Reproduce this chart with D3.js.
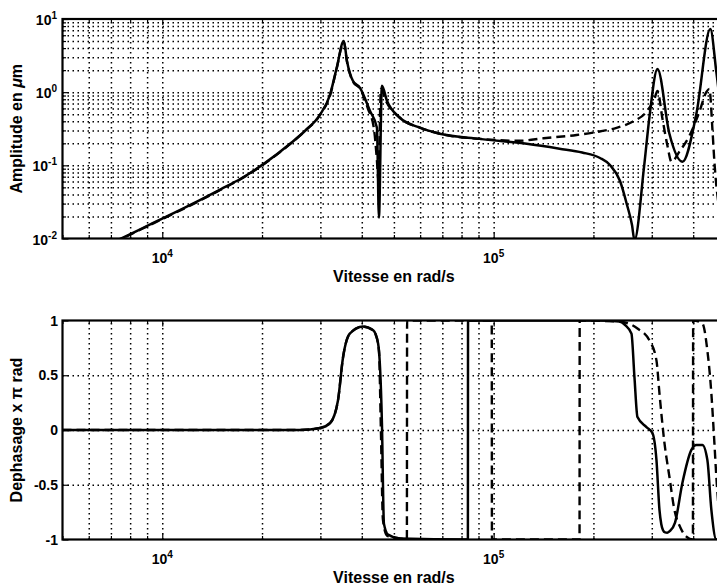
<!DOCTYPE html>
<html><head><meta charset="utf-8">
<script src="https://cdn.jsdelivr.net/npm/d3@7"></script>
<style>
body{margin:0;background:#fff;}
svg{display:block;font-family:"Liberation Sans",Arial,Helvetica,sans-serif;font-weight:bold;}
</style></head><body>
<svg id="chart" width="717" height="588"></svg>
<script>
// ---------- data ----------
const xDomain = [5000, 500000];
const xMajorTicks = [1e4, 1e5];
const xTickLabelBase = ["10", "10"];
const xTickLabelExp = ["4", "5"];

const ampDomain = [0.01, 10];
const ampMajorTicks = [0.01, 0.1, 1, 10];
const ampTickLabelExp = ["-2", "-1", "0", "1"];

const phaseDomain = [-1, 1];
const phaseTicks = [-1, -0.5, 0, 0.5, 1];
const phaseTickLabels = ["-1", "-0.5", "0", "0.5", "1"];

const xTitle = "Vitesse en rad/s";
const ampTitle = ["Amplitude en ", "\u03BC", "m"];
const phaseTitle = "Dephasage x \u03C0 rad";

// amplitude, solid curve
const ampOmegaSolid = [5000, 7585, 8700, 10000, 11500, 13030, 15000, 17180, 20440, 24300, 26980, 29900, 32070, 33600, 35300, 36090, 37600, 39500, 42330, 44440, 45060, 46000, 47640, 52120, 59860, 68800, 90800, 125800, 158000, 185000, 209400, 224400, 240600, 252600, 261500, 266000, 284300, 295000, 312100, 339100, 371200, 409000, 450600, 469800, 500000];
const ampSolid = [0.0043, 0.0102, 0.0138, 0.0187, 0.0254, 0.0337, 0.047, 0.065, 0.108, 0.197, 0.297, 0.49, 0.92, 2.15, 5.0, 2.67, 1.43, 1.146, 0.556, 0.327, 0.0193, 1.22, 0.762, 0.447, 0.327, 0.27, 0.23, 0.197, 0.169, 0.15, 0.126, 0.101, 0.061, 0.0287, 0.0153, 0.0095, 0.095, 0.447, 2.08, 0.27, 0.112, 0.506, 7.3, 1.89, 0.16];

// amplitude, dashed curve
const ampOmegaDashed = [5000, 7585, 8700, 10000, 11500, 13030, 15000, 17180, 20440, 24300, 26980, 29900, 32070, 33600, 35300, 36090, 37600, 39500, 41760, 43530, 44440, 44900, 45680, 47300, 52120, 59860, 68800, 90800, 119800, 141600, 177900, 208700, 234800, 262400, 289100, 305600, 312100, 323100, 334500, 343900, 363500, 389700, 417700, 438500, 447700, 457100, 463500, 469800, 500000];
const ampDashed = [0.0042, 0.0100, 0.0136, 0.0184, 0.025, 0.0332, 0.0463, 0.064, 0.107, 0.195, 0.295, 0.485, 0.9, 2.1, 4.9, 2.6, 1.4, 1.12, 0.593, 0.316, 0.116, 0.062, 1.11, 0.76, 0.447, 0.327, 0.27, 0.23, 0.217, 0.235, 0.26, 0.29, 0.325, 0.394, 0.54, 0.811, 1.04, 0.433, 0.185, 0.112, 0.154, 0.254, 0.54, 1.01, 1.11, 0.316, 0.112, 0.053, 0.0129];

// phase (x pi rad), solid curve
const phaseOmegaSolid = [5000, 26050, 29930, 32100, 33900, 35100, 36800, 40300, 43300, 44800, 46010, 46650, 48000, 52100, 83600, 83700, 208700, 239800, 249900, 260500, 266000, 271600, 289100, 301400, 309900, 316400, 320500, 324400, 329000, 334000, 340600, 352600, 371200, 395000, 409000, 426400, 441400, 453800, 469800, 500000];
const phaseSolid = [0, 0, 0.018, 0.064, 0.27, 0.66, 0.88, 0.945, 0.91, 0.79, 0.064, -0.855, -0.955, -0.99, -1, 1, 1, 0.99, 0.955, 0.88, 0.48, 0.118, 0.027, -0.027, -0.273, -0.727, -0.86, -0.915, -0.935, -0.938, -0.922, -0.845, -0.482, -0.182, -0.136, -0.136, -0.273, -0.727, -1, -1];

// phase (x pi rad), dashed curve
const phaseOmegaDashed = [5000, 26050, 29930, 32100, 33900, 35100, 36800, 40300, 43300, 44130, 45060, 45680, 46330, 47640, 52100, 54720, 54800, 98680, 98800, 181600, 181800, 239800, 271600, 295200, 309900, 316400, 327600, 339100, 351000, 365900, 381500, 399200, 399900, 426400, 441400, 453800, 463500, 469800, 486300, 500000];
const phaseDashed = [0, 0, 0.018, 0.064, 0.27, 0.66, 0.88, 0.945, 0.91, 0.864, 0.727, 0, -0.818, -0.964, -0.99, -1, 1, 1, -1, -1, 1, 0.99, 0.927, 0.818, 0.636, 0.336, -0.118, -0.427, -0.727, -0.891, -0.973, -1, 1, 0.973, 0.727, 0.336, -0.118, -0.427, -0.909, -1];

// ---------- drawing ----------
const svg = d3.select("#chart");
const left = 62.5, right = 725.3;
const x = d3.scaleLog().domain(xDomain).range([left, right]);

// log minor positions (1..9 x decade) inside the domain
function logPositions(dom) {
  const out = [];
  for (let e = Math.floor(Math.log10(dom[0])); e <= Math.ceil(Math.log10(dom[1])); e++) {
    for (let k = 1; k <= 9; k++) {
      const v = k * Math.pow(10, e);
      if (v >= dom[0] * 0.9999 && v <= dom[1] * 1.0001) out.push(v);
    }
  }
  return out;
}
const xAll = logPositions(xDomain);
const xInner = xAll.filter(v => v > xDomain[0] * 1.0001 && v < xDomain[1] * 0.9999);
const xMinor = xAll.filter(v => !xMajorTicks.some(m => Math.abs(m - v) / v < 1e-6));

const gridStyle = sel => sel.selectAll("line")
  .attr("stroke", "#000").attr("stroke-width", 1.5).attr("stroke-dasharray", "1.5 3.5");

function supLabel(g, px, py, anchor, base, exp, size) {
  const t = g.append("text").attr("x", px).attr("y", py).attr("text-anchor", anchor)
    .attr("font-size", size).attr("fill", "#000");
  t.append("tspan").text(base);
  t.append("tspan").attr("dy", -6).attr("font-size", size - 4).text(exp);
  return t;
}

function panel(opts) {
  const { top, bottom, y, yGrid, yMajor, yMinor, id } = opts;
  const g = svg.append("g");
  const h = bottom - top, w = right - left;

  svg.append("clipPath").attr("id", id).append("rect")
    .attr("x", left).attr("y", top).attr("width", w).attr("height", h);

  // vertical grid
  g.append("g").attr("transform", `translate(0,${bottom})`)
    .call(d3.axisBottom(x).tickValues(xInner).tickSize(-h).tickFormat(""))
    .call(s => s.select(".domain").remove())
    .call(gridStyle);
  // horizontal grid
  g.append("g").attr("transform", `translate(${left},0)`)
    .call(d3.axisLeft(y).tickValues(yGrid).tickSize(-w).tickFormat(""))
    .call(s => s.select(".domain").remove())
    .call(gridStyle);

  const tickStyle = s => { s.select(".domain").remove(); s.selectAll("line").attr("stroke", "#000").attr("stroke-width", 1.2); };
  // x ticks bottom & top (inward)
  g.append("g").attr("transform", `translate(0,${bottom})`)
    .call(d3.axisBottom(x).tickValues(xMajorTicks).tickSize(-6).tickFormat("")).call(tickStyle);
  g.append("g").attr("transform", `translate(0,${bottom})`)
    .call(d3.axisBottom(x).tickValues(xMinor).tickSize(-3.5).tickFormat("")).call(tickStyle);
  g.append("g").attr("transform", `translate(0,${top})`)
    .call(d3.axisTop(x).tickValues(xMajorTicks).tickSize(-6).tickFormat("")).call(tickStyle);
  g.append("g").attr("transform", `translate(0,${top})`)
    .call(d3.axisTop(x).tickValues(xMinor).tickSize(-3.5).tickFormat("")).call(tickStyle);
  // y ticks
  g.append("g").attr("transform", `translate(${left},0)`)
    .call(d3.axisLeft(y).tickValues(yMajor).tickSize(-6).tickFormat("")).call(tickStyle);
  if (yMinor.length)
    g.append("g").attr("transform", `translate(${left},0)`)
      .call(d3.axisLeft(y).tickValues(yMinor).tickSize(-3.5).tickFormat("")).call(tickStyle);

  // curves
  const line = (xs, ys) => d3.line().curve(d3.curveMonotoneX)
    .x((d, i) => x(xs[i])).y((d, i) => y(ys[i]))(xs);
  g.append("path").attr("d", line(opts.solidX, opts.solidY))
    .attr("clip-path", `url(#${id})`).attr("fill", "none")
    .attr("stroke", "#000").attr("stroke-width", 2.5).attr("stroke-linejoin", "round");
  g.append("path").attr("d", line(opts.dashX, opts.dashY))
    .attr("clip-path", `url(#${id})`).attr("fill", "none")
    .attr("stroke", "#000").attr("stroke-width", 2.4).attr("stroke-dasharray", "9 5");

  // frame
  g.append("rect").attr("x", left).attr("y", top).attr("width", w).attr("height", h)
    .attr("fill", "none").attr("stroke", "#000").attr("stroke-width", 2.2);

  // x tick labels
  xMajorTicks.forEach((v, i) => supLabel(g, x(v), bottom + 24, "middle", xTickLabelBase[i], xTickLabelExp[i], 14));
  // x title
  g.append("text").attr("x", (left + 725.3) / 2).attr("y", bottom + 43).attr("text-anchor", "middle")
    .attr("font-size", 16).text(xTitle);
  return g;
}

const yAmp = d3.scaleLog().domain(ampDomain).range([238.5, 19]);
const ampAll = logPositions(ampDomain);
const gA = panel({
  id: "clipA", top: 19, bottom: 238.5, y: yAmp,
  yGrid: ampAll.filter(v => v > 0.0100001 && v < 9.9999),
  yMajor: ampMajorTicks,
  yMinor: ampAll.filter(v => !ampMajorTicks.some(m => Math.abs(m - v) / v < 1e-6)),
  solidX: ampOmegaSolid, solidY: ampSolid, dashX: ampOmegaDashed, dashY: ampDashed
});
ampMajorTicks.forEach((v, i) => supLabel(gA, 57, yAmp(v) + 6, "end", "10", ampTickLabelExp[i], 14));
const tA = gA.append("text").attr("transform", `translate(22,${(19 + 238.5) / 2}) rotate(-90)`)
  .attr("text-anchor", "middle").attr("font-size", 16);
tA.append("tspan").text(ampTitle[0]);
tA.append("tspan").attr("font-style", "italic").text(ampTitle[1]);
tA.append("tspan").text(ampTitle[2]);

const yPh = d3.scaleLinear().domain(phaseDomain).range([539.5, 320.5]);
const gP = panel({
  id: "clipP", top: 320.5, bottom: 539.5, y: yPh,
  yGrid: phaseTicks.filter(v => v > -1 && v < 1),
  yMajor: phaseTicks, yMinor: [],
  solidX: phaseOmegaSolid, solidY: phaseSolid, dashX: phaseOmegaDashed, dashY: phaseDashed
});
phaseTicks.forEach((v, i) => gP.append("text").attr("x", 58).attr("y", yPh(v) + 5)
  .attr("text-anchor", "end").attr("font-size", 14).text(phaseTickLabels[i]));
gP.append("text").attr("transform", `translate(22,${(320.5 + 539.5) / 2}) rotate(-90)`)
  .attr("text-anchor", "middle").attr("font-size", 16).text(phaseTitle);
</script>
</body></html>
